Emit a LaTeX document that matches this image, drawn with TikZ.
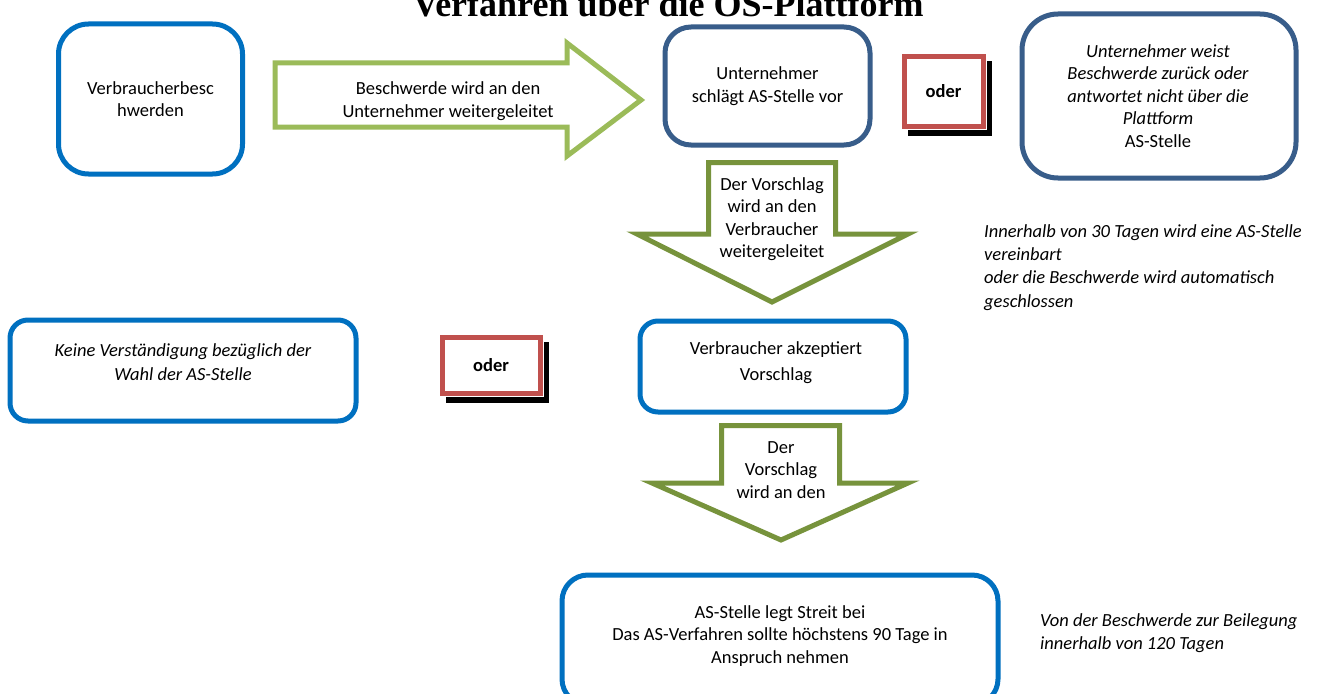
\documentclass[tikz,border=0pt]{standalone}
\usepackage{fontspec}
\setmainfont{Carlito}
\newfontfamily\titlefont{Liberation Serif}
\usetikzlibrary{calc}
\definecolor{cblue}{HTML}{0070C0}
\definecolor{dblue}{HTML}{385D8A}
\definecolor{lgreen}{HTML}{9BBB59}
\definecolor{dgreen}{HTML}{77933C}
\definecolor{cred}{HTML}{C0504D}
\newcommand{\bodyfs}{\fontsize{18.5}{22.5}\selectfont}
\newcommand{\notefs}{\fontsize{18.5}{23.4}\selectfont}
\begin{document}
\begin{tikzpicture}[x=1pt,y=-1pt,
  box/.style={draw, line width=5pt, fill=white, align=center, inner sep=0pt, font=\bodyfs},
  txt/.style={align=center, inner sep=0pt, font=\bodyfs},
  itxt/.style={align=left, inner sep=0pt, font=\notefs\itshape},
  oderbox/.style={draw=cred, line width=5pt, fill=white, preaction={draw=white, line width=8pt}, inner sep=0pt, font=\bodyfs\bfseries},
  shadowbox/.style={draw=black, fill=black, line width=5pt, inner sep=0pt},
  blockarrow/.style={line width=5pt, fill=white, line join=miter}
]
\useasboundingbox (0,0) rectangle (1319,693);
\fill[white] (0,0) rectangle (1319,693);

% title (clipped at the top, as in the reference)
\node[font=\titlefont\bfseries\fontsize{36}{40}\selectfont, anchor=base, inner sep=0pt] (title) at (668,17) {Verfahren über die OS-Plattform};

% boxes
\node[box, draw=cblue, rounded corners=30pt, minimum width=184pt, minimum height=150pt] (a) at (150.5,99) {Verbraucherbesc\\hwerden};
\node[box, draw=dblue, rounded corners=26pt, minimum width=205pt, minimum height=118pt] (b) at (767.5,86) {Unternehmer\\schlägt AS-Stelle vor};
\node[box, draw=dblue, rounded corners=36pt, minimum width=274pt, minimum height=164pt] (c) at (1159,96) {};
\node[txt] (ctxt) at (1158,96) {\itshape Unternehmer weist\\\itshape Beschwerde zurück oder\\\itshape antwortet nicht über die\\\itshape Plattform\\AS-Stelle};
\node[box, draw=cblue, rounded corners=18pt, minimum width=266pt, minimum height=91pt] (d) at (773,366.5) {};
\node[txt, text depth=0pt] (dtxt) at (776,361) {Verbraucher akzeptiert\\[3pt]Vorschlag};
\node[box, draw=cblue, rounded corners=18pt, minimum width=346pt, minimum height=101pt] (e) at (183,370.5) {};
\node[txt] (etxt) at (183,362) {\itshape Keine Verständigung bezüglich der\\[2pt]\itshape Wahl der AS-Stelle};
\node[box, draw=cblue, rounded corners=26pt, minimum width=436pt, minimum height=130pt] (f) at (780,640) {};
\node[txt] (ftxt) at (780,636) {AS-Stelle legt Streit bei\\Das AS-Verfahren sollte höchstens 90 Tage in\\Anspruch nehmen};

% oder boxes with shadows
\node[shadowbox, minimum width=79pt, minimum height=69pt] (o1s) at (949.5,98.5) {};
\node[oderbox, minimum width=79pt, minimum height=69pt] (o1) at (943.5,91.5) {oder};
\node[shadowbox, minimum width=98pt, minimum height=56pt] (o2s) at (497,372) {};
\node[oderbox, minimum width=98pt, minimum height=56pt] (o2) at (491,365) {oder};

% block arrows
\draw[blockarrow, draw=lgreen] (275,63) -- (567,63) -- (567,43) -- (641,100) -- (567,156) -- (567,127) -- (275,127) -- cycle;
\node[txt] (rtxt) at (448,101) {Beschwerde wird an den\\Unternehmer weitergeleitet};

\draw[blockarrow, draw=dgreen] (708.5,162.5) -- (835.5,162.5) -- (835.5,234) -- (908,234) -- (772,302) -- (637,234) -- (708.5,234) -- cycle;
\node[txt] (d1txt) at (772,219) {Der Vorschlag\\wird an den\\Verbraucher\\weitergeleitet};

\draw[blockarrow, draw=dgreen] (721.5,425.5) -- (839.5,425.5) -- (839.5,483) -- (908,483) -- (781,540) -- (652,483) -- (721.5,483) -- cycle;
\node[txt] (d2txt) at (781,470) {Der\\Vorschlag\\wird an den};

% side notes
\node[itxt, anchor=north west] (n1) at (984,224) {Innerhalb von 30 Tagen wird eine AS-Stelle\\vereinbart\\oder die Beschwerde wird automatisch\\geschlossen};
\node[itxt, anchor=north west] (n2) at (1040,613) {Von der Beschwerde zur Beilegung\\innerhalb von 120 Tagen};
\end{tikzpicture}
\end{document}
